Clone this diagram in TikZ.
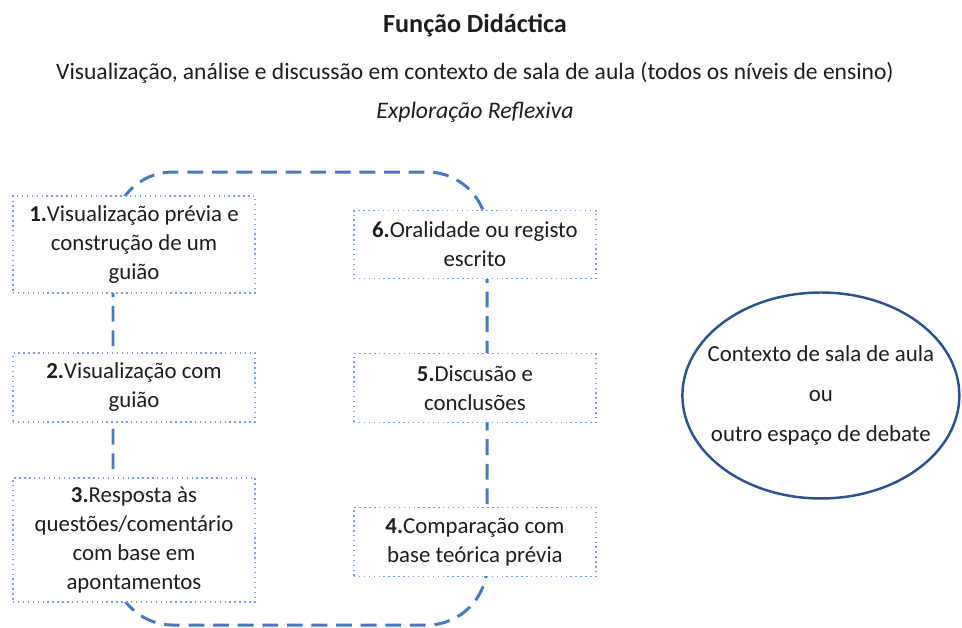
\documentclass[tikz,border=0pt]{standalone}
\usepackage{fontspec}
\setmainfont{Carlito}
\usetikzlibrary{shapes,arrows,positioning,calc}
\definecolor{loopblue}{RGB}{70,122,194}
\definecolor{boxblue}{RGB}{125,160,215}
\definecolor{navy}{RGB}{47,82,143}
\definecolor{ink}{RGB}{30,30,30}
\tikzset{
    stage/.style={rectangle, draw=boxblue, dotted, fill=white, text=ink, align=center, minimum width=4.84cm, inner sep=0pt, line width=0.8pt, font=\fontsize{13}{16.5}\selectfont},
    loopline/.style={draw=loopblue, line width=1.7pt, dash pattern=on 9pt off 5pt},
    setting/.style={ellipse, draw=navy, line width=1.4pt, minimum width=5.54cm, minimum height=4.12cm, inner xsep=-0.4cm, inner ysep=0pt, align=center, text=ink, font=\fontsize{13}{23}\selectfont},
    heading/.style={text=ink, anchor=base, font=\fontsize{13.4}{16}\selectfont}
}

\begin{document}
\begin{tikzpicture}[x=0.02cm, y=-0.02cm, node distance=2.86cm]
    \useasboundingbox (0,0) rectangle (962,627);
    \node [heading, font=\bfseries\fontsize{14.9}{16}\selectfont] (title) at (475,32) {Função Didáctica};
    \node [heading] (subtitle) at (475,79) {Visualização, análise e discussão em contexto de sala de aula (todos os níveis de ensino)};
    \node [heading, font=\itshape\fontsize{13.5}{16}\selectfont] (mode) at (475,118) {Exploração Reflexiva};

    \coordinate (loopnw) at (113,172);
    \coordinate (loopse) at (487,625);
    \draw [loopline, rounded corners=1.2cm] (loopnw) rectangle (loopse);

    \node [stage, minimum height=1.94cm] (s1) at (134,244.5) {\textbf{1.}Visualização prévia e\\construção de um\\guião};
    \node [stage, minimum height=1.38cm, below of=s1] (s2) {\textbf{2.}Visualização com\\guião};
    \node [stage, minimum height=2.48cm, below of=s2, node distance=3.05cm] (s3) {\textbf{3.}Resposta às\\questões/comentário\\com base em\\apontamentos};
    \node [stage, minimum height=1.36cm, right of=s1, node distance=6.82cm] (s6) {\textbf{6.}Oralidade ou registo\\escrito};
    \node [stage, minimum height=1.38cm, below of=s6, node distance=2.87cm] (s5) {\textbf{5.}Discusão e\\conclusões};
    \node [stage, minimum height=1.38cm, below of=s5, node distance=3.08cm] (s4) {\textbf{4.}Comparação com\\base teórica prévia};
    \node [setting, right of=s5, node distance=6.92cm, yshift=-0.15cm] (ctx) {Contexto de sala de aula\\ou\\outro espaço de debate};
\end{tikzpicture}
\end{document}
